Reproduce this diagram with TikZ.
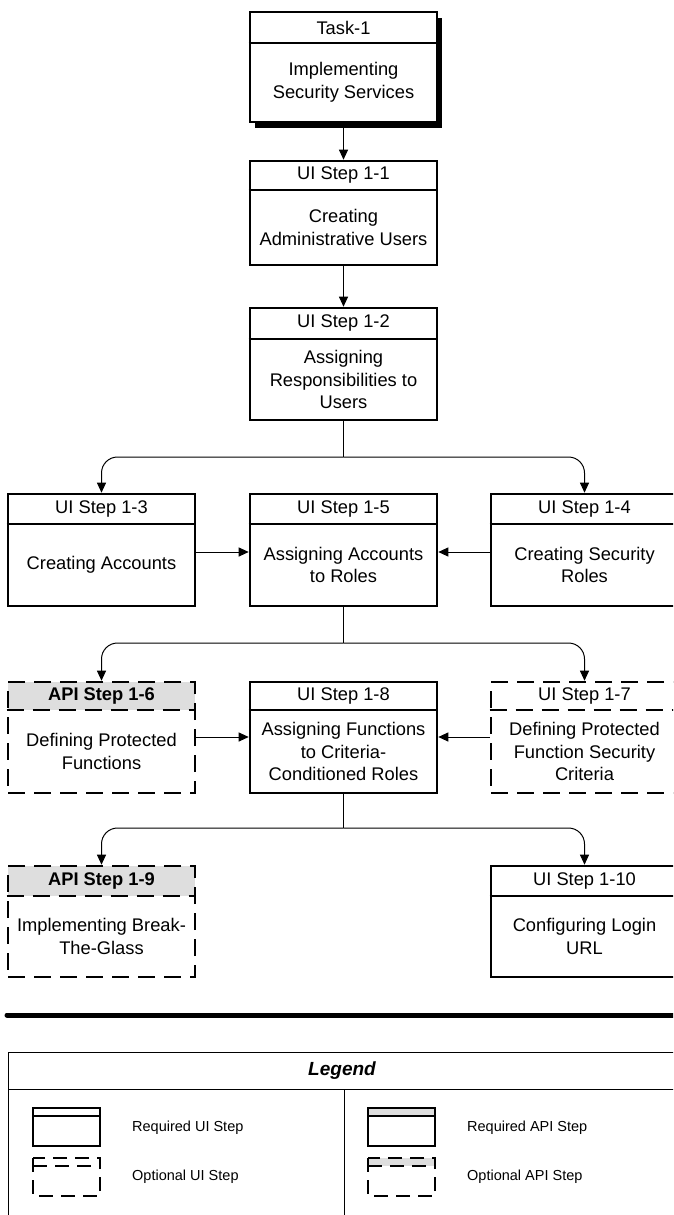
\documentclass[tikz,border=0pt]{standalone}
\usepackage{fontspec}
\setmainfont{Liberation Sans}
\usetikzlibrary{arrows.meta}
\definecolor{hdrgray}{RGB}{222,222,222}
\tikzset{
  frame/.style={draw, rectangle, line width=2.6pt, inner sep=0pt, minimum width=187pt},
  optional/.style={dash pattern=on 17pt off 9pt},
  hdrline/.style={line width=2pt},
  lbl/.style={inner sep=0pt, align=center, font=\fontsize{18.3}{22.5}\selectfont},
  conn/.style={line width=1pt},
  arr/.style={conn, -{Triangle[length=10pt,width=9pt]}},
  branch/.style={arr, rounded corners=16pt},
  legtext/.style={inner sep=0pt, anchor=west, font=\fontsize{14.5}{17}\selectfont},
  legicon/.style={line width=2pt},
  legdash/.style={dash pattern=on 14pt off 8pt},
}
% #1 name, #2 centre x, #3 top, #4 header bottom, #5 bottom,
% #6 border style, #7 header fill, #8 header text, #9 body text
\newcommand\stepbox[9]{%
  \fill[#7] (#2-93.5,#3) rectangle (#2+93.5,#4);
  \node[frame,#6,minimum height={(#5-#3)*1pt}] (#1) at (#2,{(#3+#5)/2}) {};
  \draw[hdrline,#6] (#1.west |- 0,#4) -- (#1.east |- 0,#4);
  \node[lbl] (#1-h) at (#2,{(#3+#4)/2}) {#8};
  \node[lbl] (#1-b) at (#2,{(#4+#5)/2}) {#9};
}
% #1 left x, #2 top y, #3 border style, #4 header fill
\newcommand\legendicon[4]{%
  \fill[#4] (#1,#2) rectangle (#1+67,#2+8);
  \draw[legicon,#3] (#1,#2) rectangle (#1+67,#2+38);
  \draw[legicon,#3] (#1,#2+8) -- (#1+67,#2+8);
}
\begin{document}
\begin{tikzpicture}[x=1pt,y=-1pt]
\useasboundingbox (0,0) rectangle (673,1215);
\clip (0,0) rectangle (673,1215);
\fill[white] (0,0) rectangle (673,1215);

% task box with drop shadow
\fill[black] (255,18) rectangle (442,128);
\fill[white] (250,12) rectangle (437,122);
\stepbox{t1}{343.5}{12}{43}{122}{solid}{white}{Task-1}{Implementing\\Security Services}

\stepbox{s11}{343.5}{161}{190}{265}{solid}{white}{UI Step 1-1}{Creating\\Administrative Users}
\stepbox{s12}{343.5}{308}{339}{420}{solid}{white}{UI Step 1-2}{Assigning\\Responsibilities to\\Users}

\stepbox{s13}{101.5}{494}{524}{606}{solid}{white}{UI Step 1-3}{Creating Accounts}
\stepbox{s15}{343.5}{494}{524}{606}{solid}{white}{UI Step 1-5}{Assigning Accounts\\to Roles}
\stepbox{s14}{584.5}{494}{524}{606}{solid}{white}{UI Step 1-4}{Creating Security\\Roles}

\stepbox{s16}{101.5}{682}{710}{793}{optional}{hdrgray}{\textbf{API Step 1-6}}{Defining Protected\\Functions}
\stepbox{s18}{343.5}{682}{710}{793}{solid}{white}{UI Step 1-8}{Assigning Functions\\to Criteria-\\Conditioned Roles}
\stepbox{s17}{584.5}{682}{710}{793}{optional}{white}{UI Step 1-7}{Defining Protected\\Function Security\\Criteria}

\stepbox{s19}{101.5}{866}{896}{977}{optional}{hdrgray}{\textbf{API Step 1-9}}{Implementing Break-\\The-Glass}
\stepbox{s110}{584.5}{866}{896}{977}{solid}{white}{UI Step 1-10}{Configuring Login\\URL}

% connectors
\coordinate (j1) at (343.5,457);
\coordinate (j2) at (343.5,643);
\coordinate (j3) at (343.5,828);
\draw[arr] (t1.south) -- (s11.north);
\draw[arr] (s11.south) -- (s12.north);
\draw[conn] (s12.south) -- (j1);
\draw[branch] (j1) -| (s13.north);
\draw[branch] (j1) -| (s14.north);
\draw[arr] (s13.east |- 0,552) -- (s15.west |- 0,552);
\draw[arr] (s14.west |- 0,552) -- (s15.east |- 0,552);
\draw[conn] (s15.south) -- (j2);
\draw[branch] (j2) -| (s16.north);
\draw[branch] (j2) -| (s17.north);
\draw[arr] (s16.east |- 0,737) -- (s18.west |- 0,737);
\draw[arr] (s17.west |- 0,737) -- (s18.east |- 0,737);
\draw[conn] (s18.south) -- (j3);
\draw[branch] (j3) -| (s19.north);
\draw[branch] (j3) -| (s110.north);

% separator
\draw[line width=5pt, line cap=round] (7,1015) -- (700,1015);

% legend
\draw[conn] (8,1240) -- (8,1052) -- (700,1052);
\draw[conn] (8,1089) -- (700,1089);
\draw[conn] (344,1089) -- (344,1240);
\node[inner sep=0pt, font=\bfseries\itshape\fontsize{19}{22}\selectfont] (lgtitle) at (342,1070.5) {Legend};
\legendicon{33}{1108}{solid}{white}
\legendicon{33}{1158}{legdash}{white}
\legendicon{368}{1108}{solid}{hdrgray}
\legendicon{368}{1158}{legdash}{hdrgray}
\node[legtext] (lg1) at (132,1128) {Required UI Step};
\node[legtext] (lg2) at (132,1177) {Optional UI Step};
\node[legtext] (lg3) at (467,1128) {Required API Step};
\node[legtext] (lg4) at (467,1177) {Optional API Step};
\end{tikzpicture}
\end{document}
